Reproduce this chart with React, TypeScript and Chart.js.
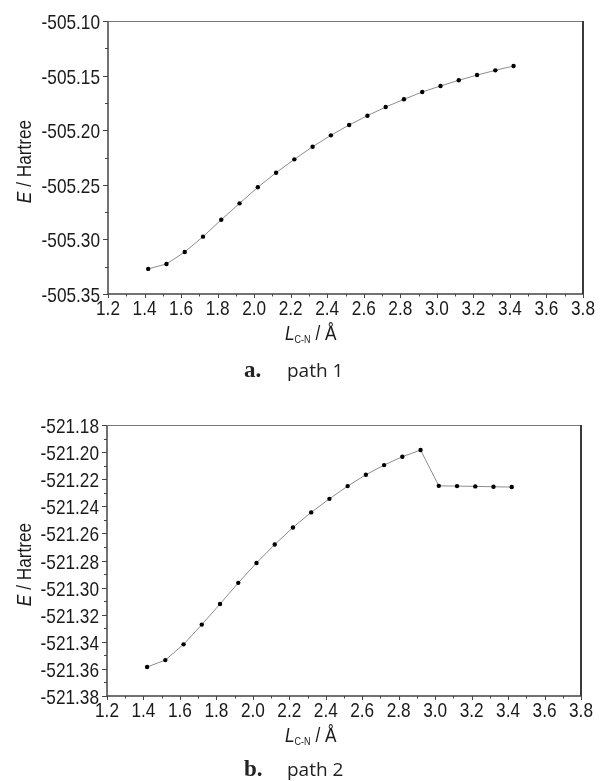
import React, { useEffect, useRef } from "react";
import { Chart, registerables } from "chart.js";

Chart.register(...registerables);

// ---------- data ----------
const bondLengths = [
  1.42, 1.52, 1.62, 1.72, 1.82, 1.92, 2.02, 2.12, 2.22, 2.32, 2.42,
  2.52, 2.62, 2.72, 2.82, 2.92, 3.02, 3.12, 3.22, 3.32, 3.42,
];

const energyPath1 = [
  -505.327, -505.3225, -505.3115, -505.2975, -505.282, -505.267, -505.2523,
  -505.2389, -505.2267, -505.2151, -505.2047, -505.1952, -505.1867, -505.1788,
  -505.1717, -505.165, -505.1595, -505.1543, -505.1495, -505.1452, -505.1412,
];

const energyPath2 = [
  -521.3586, -521.3535, -521.3419, -521.3273, -521.3121, -521.2965, -521.2818,
  -521.2682, -521.2556, -521.2445, -521.2345, -521.2251, -521.2167, -521.2096,
  -521.2034, -521.1985, -521.2249, -521.2251, -521.2253, -521.2256, -521.2258,
];

const xTickValues = [1.2, 1.4, 1.6, 1.8, 2.0, 2.2, 2.4, 2.6, 2.8, 3.0, 3.2, 3.4, 3.6, 3.8];
const yTickValuesPath1 = [-505.35, -505.3, -505.25, -505.2, -505.15, -505.1];
const yTickValuesPath2 = [
  -521.38, -521.36, -521.34, -521.32, -521.3, -521.28, -521.26, -521.24,
  -521.22, -521.2, -521.18,
];

const yTitleItalic = "E";
const yTitleRest = " / Hartree";
const xTitleItalic = "L";
const xTitleSub = "C-N";
const xTitleRest = " / Å";

const captionLetters = ["a.", "b."];
const captionTexts = ["path 1", "path 2"];

// ---------- styles ----------
const SANS = "'Liberation Sans', Arial, sans-serif";
const NARROW_SCALE = 0.82;
const TEXT_COLOR = "#1a1a1a";

type PanelCfg = {
  energies: number[];
  yTicks: number[];
  yDecimals: number;
  padTop: number;
  padRight: number;
  padBottom: number;
  yAxisWidth: number;
  canvasHeight: number;
  captionLetter: string;
  captionText: string;
  captionBaseline: number;
};

function narrowWidth(ctx: CanvasRenderingContext2D, text: string, font: string) {
  ctx.font = font;
  return ctx.measureText(text).width * NARROW_SCALE;
}

function drawNarrow(
  ctx: CanvasRenderingContext2D,
  text: string,
  x: number,
  y: number,
  font: string,
  align: CanvasTextAlign
) {
  ctx.save();
  ctx.font = font;
  ctx.textAlign = align;
  ctx.textBaseline = "alphabetic";
  ctx.translate(x, y);
  ctx.scale(NARROW_SCALE, 1);
  ctx.fillText(text, 0, 0);
  ctx.restore();
}

function makePlugin(cfg: PanelCfg) {
  return {
    id: "decor",
    afterDraw(chart: any) {
      const ctx: CanvasRenderingContext2D = chart.ctx;
      const xs = chart.scales.x;
      const ys = chart.scales.y;
      const { left, right, top, bottom } = chart.chartArea;
      ctx.save();

      // frame
      ctx.lineWidth = 1.5;
      ctx.strokeStyle = "#444";
      ctx.beginPath();
      ctx.moveTo(left, top);
      ctx.lineTo(left, bottom);
      ctx.lineTo(right, bottom);
      ctx.stroke();
      ctx.lineWidth = 1;
      ctx.strokeStyle = "#777";
      ctx.beginPath();
      ctx.moveTo(left, top + 0.5);
      ctx.lineTo(right, top + 0.5);
      ctx.stroke();
      ctx.lineWidth = 2;
      ctx.strokeStyle = "#3a3a3a";
      ctx.beginPath();
      ctx.moveTo(right, top);
      ctx.lineTo(right, bottom);
      ctx.stroke();

      // ticks
      ctx.lineWidth = 1;
      ctx.strokeStyle = "#444";
      const line = (x1: number, y1: number, x2: number, y2: number) => {
        ctx.beginPath();
        ctx.moveTo(x1, y1);
        ctx.lineTo(x2, y2);
        ctx.stroke();
      };
      xTickValues.forEach((v, i) => {
        const px = Math.round(xs.getPixelForValue(v)) + 0.5;
        line(px, bottom, px, bottom + 4);
        if (i < xTickValues.length - 1) {
          const m = (v + xTickValues[i + 1]) / 2;
          const pm = Math.round(xs.getPixelForValue(m)) + 0.5;
          line(pm, bottom, pm, bottom + 2.5);
        }
      });
      cfg.yTicks.forEach((v, i) => {
        const py = Math.round(ys.getPixelForValue(v)) + 0.5;
        line(left - 5, py, left, py);
        if (i < cfg.yTicks.length - 1) {
          const m = (v + cfg.yTicks[i + 1]) / 2;
          const pm = Math.round(ys.getPixelForValue(m)) + 0.5;
          line(left - 3, pm, left, pm);
        }
      });

      ctx.fillStyle = TEXT_COLOR;
      const tickFont = `21px ${SANS}`;

      // tick labels (from the scales' own ticks)
      xs.ticks.forEach((t: any) => {
        const px = xs.getPixelForValue(t.value);
        drawNarrow(ctx, Number(t.value).toFixed(1), px, bottom + 21, tickFont, "center");
      });
      ys.ticks.forEach((t: any) => {
        const py = ys.getPixelForValue(t.value);
        drawNarrow(ctx, Number(t.value).toFixed(cfg.yDecimals), left - 8, py + 8, tickFont, "right");
      });

      // y title
      const italicFont = `italic 21px ${SANS}`;
      const normalFont = `21px ${SANS}`;
      const wE = narrowWidth(ctx, yTitleItalic, italicFont);
      const wR = narrowWidth(ctx, yTitleRest, normalFont);
      const cy = (top + bottom) / 2 + 4;
      ctx.save();
      ctx.translate(31, cy);
      ctx.rotate(-Math.PI / 2);
      drawNarrow(ctx, yTitleItalic, -(wE + wR) / 2, 0, italicFont, "left");
      drawNarrow(ctx, yTitleRest, -(wE + wR) / 2 + wE, 0, normalFont, "left");
      ctx.restore();

      // x title
      const bx = 285;
      const by = bottom + 46;
      drawNarrow(ctx, xTitleItalic, bx, by, italicFont, "left");
      const wL = narrowWidth(ctx, xTitleItalic, italicFont);
      const subFont = `11px ${SANS}`;
      drawNarrow(ctx, xTitleSub, bx + wL, by + 3, subFont, "left");
      const wS = narrowWidth(ctx, xTitleSub, subFont);
      drawNarrow(ctx, xTitleRest, bx + wL + wS, by, normalFont, "left");

      // caption
      ctx.fillStyle = "#222";
      ctx.textAlign = "left";
      ctx.textBaseline = "alphabetic";
      ctx.font = "bold 23px 'Liberation Serif', 'DejaVu Serif', serif";
      ctx.fillText(cfg.captionLetter, 244, cfg.captionBaseline);
      ctx.font = "19px 'Open Sans', 'Noto Sans', sans-serif";
      ctx.fillText(cfg.captionText, 287, cfg.captionBaseline);

      ctx.restore();
    },
  };
}

function Panel({ cfg, top }: { cfg: PanelCfg; top: number }) {
  const ref = useRef<HTMLCanvasElement | null>(null);
  useEffect(() => {
    if (!ref.current) return;
    const yMin = cfg.yTicks[0];
    const yMax = cfg.yTicks[cfg.yTicks.length - 1];
    const chart = new Chart(ref.current, {
      type: "scatter",
      data: {
        datasets: [
          {
            data: bondLengths.map((x, i) => ({ x, y: cfg.energies[i] })),
            showLine: true,
            borderColor: "#8c8c8c",
            borderWidth: 1,
            pointRadius: 2.2,
            pointBackgroundColor: "#000",
            pointBorderWidth: 0,
            tension: 0,
          } as any,
        ],
      },
      options: {
        responsive: false,
        animation: false,
        layout: {
          padding: { left: 0, top: cfg.padTop, right: cfg.padRight, bottom: cfg.padBottom },
        },
        plugins: { legend: { display: false }, tooltip: { enabled: false } },
        scales: {
          x: {
            type: "linear",
            min: xTickValues[0],
            max: xTickValues[xTickValues.length - 1],
            afterBuildTicks: (s: any) => {
              s.ticks = xTickValues.map((v) => ({ value: v }));
            },
            afterFit: (s: any) => {
              s.height = 56;
            },
            grid: { display: false, drawTicks: false },
            border: { display: false },
            ticks: { display: false },
          },
          y: {
            type: "linear",
            min: yMin,
            max: yMax,
            afterBuildTicks: (s: any) => {
              s.ticks = cfg.yTicks.map((v) => ({ value: v }));
            },
            afterFit: (s: any) => {
              s.width = cfg.yAxisWidth;
            },
            grid: { display: false, drawTicks: false },
            border: { display: false },
            ticks: { display: false },
          },
        },
      } as any,
      plugins: [makePlugin(cfg)],
    });
    return () => chart.destroy();
  }, [cfg]);
  return (
    <canvas
      ref={ref}
      width={600}
      height={cfg.canvasHeight}
      style={{
        position: "absolute",
        left: 0,
        top,
        width: 600,
        height: cfg.canvasHeight,
        display: "block",
      }}
    />
  );
}

const panel1: PanelCfg = {
  energies: energyPath1,
  yTicks: yTickValuesPath1,
  yDecimals: 2,
  padTop: 21,
  padRight: 17,
  padBottom: 40,
  yAxisWidth: 108,
  canvasHeight: 390,
  captionLetter: captionLetters[0],
  captionText: captionTexts[0],
  captionBaseline: 377,
};

const panel2: PanelCfg = {
  energies: energyPath2,
  yTicks: yTickValuesPath2,
  yDecimals: 2,
  padTop: 35,
  padRight: 19,
  padBottom: 29,
  yAxisWidth: 107,
  canvasHeight: 391,
  captionLetter: captionLetters[1],
  captionText: captionTexts[1],
  captionBaseline: 386,
};

export default function App() {
  return (
    <div
      style={{
        position: "absolute",
        left: 0,
        top: 0,
        width: 600,
        height: 781,
        background: "#fff",
        overflow: "hidden",
      }}
    >
      <Panel cfg={panel1} top={0} />
      <Panel cfg={panel2} top={390} />
    </div>
  );
}
